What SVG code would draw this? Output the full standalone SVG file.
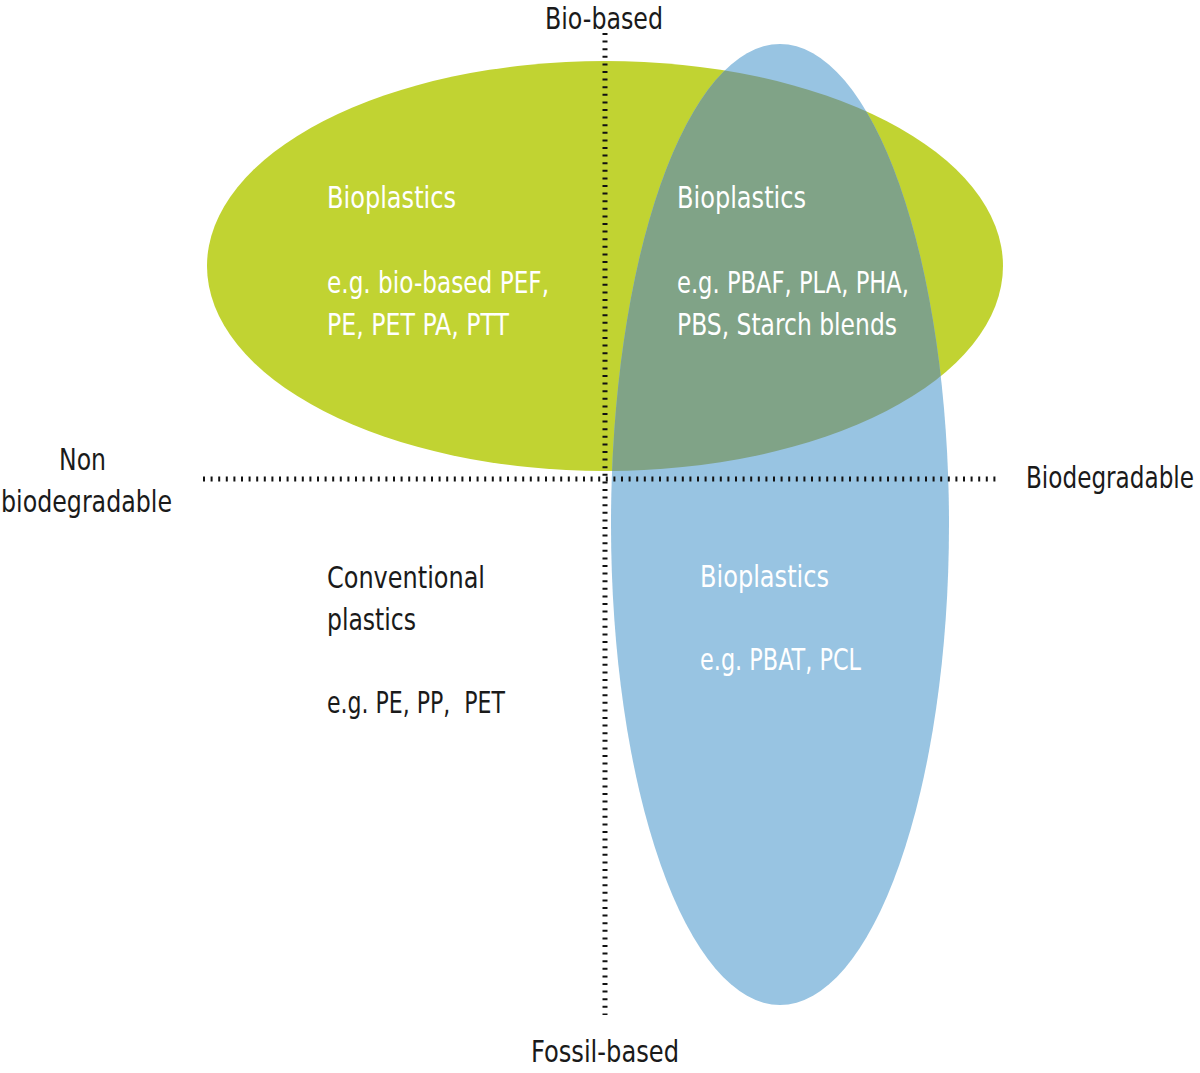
<svg xmlns="http://www.w3.org/2000/svg" width="1200" height="1073" viewBox="0 0 1200 1073">
<style>
text{font-family:"DejaVu Sans Condensed","Liberation Sans Narrow","Liberation Sans",sans-serif;font-size:30px}
.w{fill:#ffffff}
.k{fill:#1a1a1a}
.axis{stroke:#111;fill:none;stroke-dasharray:2 5.6}
</style>
<defs>
<clipPath id="blueclip"><ellipse cx="780" cy="524.5" rx="169" ry="480.5"/></clipPath>
</defs>
<g id="green-region"><ellipse cx="605" cy="266" rx="398" ry="205" fill="#c1d332"/></g>
<g id="blue-region"><ellipse cx="780" cy="524.5" rx="169" ry="480.5" fill="#98c4e2"/></g>
<g id="overlap-region"><ellipse cx="605" cy="266" rx="398" ry="205" fill="#80a387" clip-path="url(#blueclip)"/></g>
<g id="connectors">
<line class="axis" x1="605" y1="33" x2="605" y2="1015" stroke-width="5"/>
<line class="axis" x1="203" y1="479" x2="1000" y2="479" stroke-width="5"/>
</g>
<g id="axis-top"><text class="k" x="545" y="29" textLength="118" lengthAdjust="spacingAndGlyphs">Bio-based</text></g>
<g id="axis-bottom"><text class="k" x="531" y="1062" textLength="148" lengthAdjust="spacingAndGlyphs">Fossil-based</text></g>
<g id="axis-left"><text class="k" x="59" y="470" textLength="47" lengthAdjust="spacingAndGlyphs">Non</text><text class="k" x="1" y="512" textLength="171" lengthAdjust="spacingAndGlyphs">biodegradable</text></g>
<g id="axis-right"><text class="k" x="1026" y="488" textLength="168" lengthAdjust="spacingAndGlyphs">Biodegradable</text></g>
<g id="q-top-left"><text class="w" x="327" y="208" textLength="129" lengthAdjust="spacingAndGlyphs">Bioplastics</text><text class="w" x="327" y="293" textLength="222" lengthAdjust="spacingAndGlyphs">e.g. bio-based PEF,</text><text class="w" x="327" y="335" textLength="182" lengthAdjust="spacingAndGlyphs">PE, PET PA, PTT</text></g>
<g id="q-top-right"><text class="w" x="677" y="208" textLength="129" lengthAdjust="spacingAndGlyphs">Bioplastics</text><text class="w" x="677" y="293" textLength="232" lengthAdjust="spacingAndGlyphs">e.g. PBAF, PLA, PHA,</text><text class="w" x="677" y="335" textLength="220" lengthAdjust="spacingAndGlyphs">PBS, Starch blends</text></g>
<g id="q-bottom-left"><text class="k" x="327" y="588" textLength="158" lengthAdjust="spacingAndGlyphs">Conventional</text><text class="k" x="327" y="630" textLength="89" lengthAdjust="spacingAndGlyphs">plastics</text><text class="k" x="327" y="713" textLength="178" lengthAdjust="spacingAndGlyphs" xml:space="preserve">e.g. PE, PP,  PET</text></g>
<g id="q-bottom-right"><text class="w" x="700" y="587" textLength="129" lengthAdjust="spacingAndGlyphs">Bioplastics</text><text class="w" x="700" y="670" textLength="161" lengthAdjust="spacingAndGlyphs">e.g. PBAT, PCL</text></g>
</svg>
